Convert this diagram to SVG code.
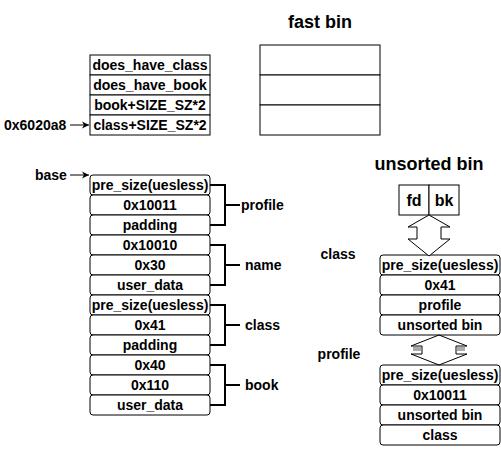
<svg xmlns="http://www.w3.org/2000/svg" width="501" height="458" viewBox="0 0 501 458">
<style>
text{font-family:"Liberation Sans",Arial,sans-serif;font-weight:bold;font-size:14px;fill:#000;text-anchor:middle}
.t{font-size:18px}
.l{text-anchor:start}
.c{fill:#fff;stroke:#000;stroke-width:1}
.br{fill:none;stroke:#000;stroke-width:2}
.ar{fill:none;stroke:#000;stroke-width:1}
.big{fill:#fff;stroke:#000;stroke-width:1;stroke-linejoin:miter}
</style>
<defs>
<marker id="ah" markerWidth="8" markerHeight="8" refX="7" refY="4" orient="auto" markerUnits="userSpaceOnUse">
<path d="M0,0.5 L7,4 L0,7.5 L2,4 Z" fill="#000"/>
</marker>
</defs>
<rect width="501" height="458" fill="#fff"/>

<g id="title-fastbin"><text class="t" x="320" y="28">fast bin</text></g>
<g id="fastbin">
<rect class="c" x="260" y="45" width="120" height="30"/>
<rect class="c" x="260" y="75" width="120" height="30"/>
<rect class="c" x="260" y="105" width="120" height="30"/>
</g>

<g id="table">
<rect class="c" x="90" y="55" width="120" height="20"/><text x="150" y="70">does_have_class</text>
<rect class="c" x="90" y="75" width="120" height="20"/><text x="150" y="90">does_have_book</text>
<rect class="c" x="90" y="95" width="120" height="20"/><text x="150" y="110">book+SIZE_SZ*2</text>
<rect class="c" x="90" y="115" width="120" height="20"/><text x="150" y="130">class+SIZE_SZ*2</text>
</g>
<g id="lbl-addr"><text class="l" x="4" y="130">0x6020a8</text></g>
<g id="lbl-base"><text class="l" x="35" y="180">base</text></g>

<g id="heap">
<rect class="c" x="90" y="175" width="120" height="20" rx="3"/><text x="150" y="190">pre_size(uesless)</text>
<rect class="c" x="90" y="195" width="120" height="20" rx="3"/><text x="150" y="210">0x10011</text>
<rect class="c" x="90" y="215" width="120" height="20" rx="3"/><text x="150" y="230">padding</text>
<rect class="c" x="90" y="235" width="120" height="20" rx="3"/><text x="150" y="250">0x10010</text>
<rect class="c" x="90" y="255" width="120" height="20" rx="3"/><text x="150" y="270">0x30</text>
<rect class="c" x="90" y="275" width="120" height="20" rx="3"/><text x="150" y="290">user_data</text>
<rect class="c" x="90" y="295" width="120" height="20" rx="3"/><text x="150" y="310">pre_size(uesless)</text>
<rect class="c" x="90" y="315" width="120" height="20" rx="3"/><text x="150" y="330">0x41</text>
<rect class="c" x="90" y="335" width="120" height="20" rx="3"/><text x="150" y="350">padding</text>
<rect class="c" x="90" y="355" width="120" height="20" rx="3"/><text x="150" y="370">0x40</text>
<rect class="c" x="90" y="375" width="120" height="20" rx="3"/><text x="150" y="390">0x110</text>
<rect class="c" x="90" y="395" width="120" height="20" rx="3"/><text x="150" y="410">user_data</text>
</g>

<g id="lbl-profile"><text class="l" x="241" y="210">profile</text></g>
<g id="lbl-name"><text class="l" x="245" y="270">name</text></g>
<g id="lbl-class"><text class="l" x="245" y="330">class</text></g>
<g id="lbl-book"><text class="l" x="245" y="390">book</text></g>

<g id="title-unsorted"><text class="t" x="429" y="170">unsorted bin</text></g>
<g id="fdbk">
<rect class="c" x="399" y="185" width="30" height="30"/><text x="414" y="206" style="font-size:16px">fd</text>
<rect class="c" x="429" y="185" width="30" height="30"/><text x="444" y="206" style="font-size:16px">bk</text>
</g>

<g id="lbl-class2"><text x="338" y="259">class</text></g>
<g id="chunk-class">
<rect class="c" x="380" y="255" width="120" height="20" rx="3"/><text x="440" y="270">pre_size(uesless)</text>
<rect class="c" x="380" y="275" width="120" height="20" rx="3"/><text x="440" y="290">0x41</text>
<rect class="c" x="380" y="295" width="120" height="20" rx="3"/><text x="440" y="310">profile</text>
<rect class="c" x="380" y="315" width="120" height="20" rx="3"/><text x="440" y="330">unsorted bin</text>
</g>

<g id="lbl-profile2"><text x="339" y="359">profile</text></g>
<g id="chunk-profile">
<rect class="c" x="380" y="365" width="120" height="20" rx="3"/><text x="440" y="380">pre_size(uesless)</text>
<rect class="c" x="380" y="385" width="120" height="20" rx="3"/><text x="440" y="400">0x10011</text>
<rect class="c" x="380" y="405" width="120" height="20" rx="3"/><text x="440" y="420">unsorted bin</text>
<rect class="c" x="380" y="425" width="120" height="20" rx="3"/><text x="440" y="440">class</text>
</g>

<g id="connectors">
<line class="ar" x1="70" y1="125" x2="89" y2="125" marker-end="url(#ah)"/>
<line class="ar" x1="70" y1="175" x2="89" y2="175" marker-end="url(#ah)"/>
<path class="br" d="M210,185 H225 V225 H210 M225,205 H240"/>
<path class="br" d="M210,245 H225 V285 H210 M225,265 H240"/>
<path class="br" d="M210,305 H225 V345 H210 M225,325 H240"/>
<path class="br" d="M210,365 H225 V405 H210 M225,385 H240"/>
<path class="big" d="M429,215 L450,227 H441 V239 H450 L429,256 L408,239 H417 V227 H408 Z"/>
<rect x="413" y="347" width="8" height="4" fill="#aaa"/>
<rect x="457" y="347" width="8" height="4" fill="#aaa"/>
<path class="big" style="fill:none" d="M439,335 L467,346 H456 V354 H467 L439,365 L411,354 H422 V346 H411 Z"/>
</g>
</svg>
